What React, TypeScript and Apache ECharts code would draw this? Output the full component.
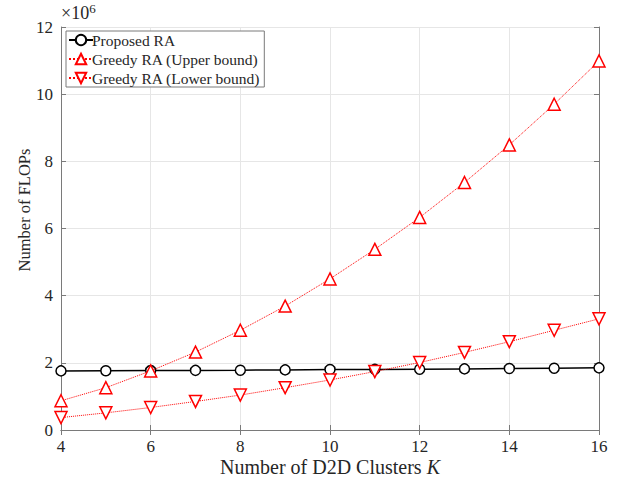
import React, { useEffect, useRef } from "react";
import * as echarts from "echarts";

const clusters = [4, 5, 6, 7, 8, 9, 10, 11, 12, 13, 14, 15, 16];
const proposedRA = [1.76, 1.765, 1.77, 1.775, 1.78, 1.79, 1.80, 1.805, 1.81, 1.82, 1.83, 1.84, 1.85];
const greedyUpper = [0.87, 1.26, 1.76, 2.32, 2.97, 3.69, 4.5, 5.38, 6.33, 7.37, 8.49, 9.7, 10.99];
const greedyLower = [0.37, 0.51, 0.67, 0.85, 1.04, 1.26, 1.49, 1.74, 2.01, 2.31, 2.63, 2.97, 3.31];
const seriesNames = ["Proposed RA", "Greedy RA (Upper bound)", "Greedy RA (Lower bound)"];
const xTitle = "Number of D2D Clusters {i|K}";
const yTitle = "Number of FLOPs";

const FONT = "'Liberation Serif', 'DejaVu Serif', serif";
const AXIS = "#7a7a7a";
const TXT = "#262626";

export default function App() {
  const ref = useRef<HTMLDivElement>(null);
  useEffect(() => {
    document.body.style.margin = "0";
    if (!ref.current) return;
    const chart = echarts.init(ref.current, undefined, { renderer: "svg" });
    const pts = (ys: number[]) => clusters.map((x, i) => [x, ys[i]]);
    const axisCommon = {
      axisLine: { show: true, lineStyle: { color: AXIS, width: 1 } },
      axisTick: { show: true, inside: true, length: 5, lineStyle: { color: AXIS } },
    };
    chart.setOption({
      animation: false,
      backgroundColor: "#ffffff",
      grid: { left: 61, right: 20, top: 27, bottom: 48, containLabel: false, outerBoundsMode: "none" },
      graphic: [
        {
          type: "text",
          left: 61,
          top: 2,
          style: {
            text: "×10{s|6}",
            font: `18px ${FONT}`,
            fill: TXT,
            rich: { s: { fontSize: 13, verticalAlign: "top", padding: [0, 0, 8, 0], fontFamily: FONT, fill: TXT } },
          },
        },
        {
          type: "text",
          x: 24,
          y: 210,
          rotation: Math.PI / 2,
          style: {
            text: yTitle,
            font: `16.5px ${FONT}`,
            fill: TXT,
            textAlign: "center",
            textVerticalAlign: "middle",
          },
        },
      ],
      legend: {
        orient: "vertical",
        left: 66,
        top: 31,
        backgroundColor: "#ffffff",
        borderColor: AXIS,
        borderWidth: 1,
        borderRadius: 0,
        padding: [1, 4, 1, 2],
        itemGap: 3,
        itemWidth: 24,
        itemHeight: 13,
        textStyle: { fontFamily: FONT, fontSize: 15.5, color: TXT, padding: [0, 0, 0, -6] },
        data: seriesNames,
      },
      xAxis: [
        {
          type: "value",
          min: 4,
          max: 16,
          interval: 2,
          ...axisCommon,
          axisLabel: { fontFamily: FONT, fontSize: 17, color: TXT, margin: 8 },
          splitLine: { show: true, lineStyle: { color: "#e6e6e6" } },
          name: xTitle,
          nameLocation: "middle",
          nameGap: 27,
          nameMoveOverlap: false,
          nameTextStyle: {
            fontFamily: FONT,
            fontSize: 20,
            lineHeight: 20,
            color: TXT,
            rich: { i: { fontStyle: "italic", fontFamily: FONT, fontSize: 20, lineHeight: 20, color: TXT } },
          },
        },
        {
          type: "value",
          position: "top",
          min: 4,
          max: 16,
          interval: 2,
          ...axisCommon,
          axisLabel: { show: false },
          splitLine: { show: false },
        },
      ],
      yAxis: [
        {
          type: "value",
          min: 0,
          max: 12,
          interval: 2,
          ...axisCommon,
          axisLabel: { fontFamily: FONT, fontSize: 17, color: TXT, margin: 8 },
          splitLine: { show: true, lineStyle: { color: "#e6e6e6" } },
        },
        {
          type: "value",
          position: "right",
          min: 0,
          max: 12,
          interval: 2,
          ...axisCommon,
          axisLabel: { show: false },
          splitLine: { show: false },
        },
      ],
      series: [
        {
          name: seriesNames[0],
          type: "line",
          data: pts(proposedRA),
          symbol: "circle",
          symbolSize: 10,
          showAllSymbol: true,
          lineStyle: { color: "#000000", width: 1.5 },
          itemStyle: { color: "#ffffff", borderColor: "#000000", borderWidth: 1.5 },
          z: 3,
        },
        {
          name: seriesNames[1],
          type: "line",
          data: pts(greedyUpper),
          symbol: "triangle",
          symbolSize: 12,
          lineStyle: { color: "#ff0000", width: 1, type: "dotted" },
          itemStyle: { color: "#ffffff", borderColor: "#ff0000", borderWidth: 1.5 },
          z: 4,
        },
        {
          name: seriesNames[2],
          type: "line",
          data: pts(greedyLower),
          symbol: "triangle",
          symbolRotate: 180,
          symbolSize: 12,
          lineStyle: { color: "#ff0000", width: 1, type: "dotted" },
          itemStyle: { color: "#ffffff", borderColor: "#ff0000", borderWidth: 1.5 },
          z: 4,
        },
      ],
    });
    return () => chart.dispose();
  }, []);
  return <div ref={ref} style={{ width: 619, height: 478 }} />;
}
